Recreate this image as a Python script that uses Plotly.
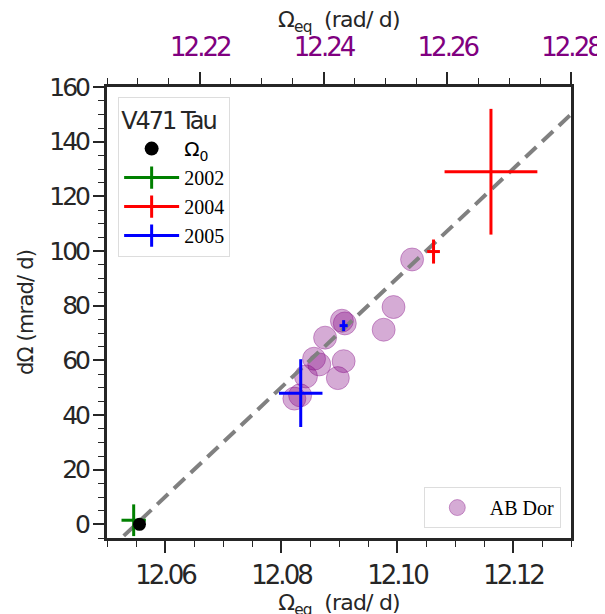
import plotly.graph_objects as go

# ---- data ----
abdor_x = [12.1026, 12.0994, 12.0977, 12.0905, 12.0910, 12.0876, 12.0857, 12.0866,
           12.0908, 12.0843, 12.0898, 12.0823, 12.0833]
abdor_y = [96.9, 79.5, 71.2, 74.5, 73.5, 68.3, 60.6, 58.5, 59.7, 54.1, 53.5, 46.0, 47.2]

omega0_x = [12.0556]
omega0_y = [0.0]

y2002_x = [12.0546]; y2002_y = [1.5]; y2002_ex = [0.0021]; y2002_ey = [5.8]
y2004_x = [12.1162, 12.1063]; y2004_y = [129.0, 99.8]
y2004_ex = [0.0080, 0.0011]; y2004_ey = [23.0, 4.4]
y2005_x = [12.0834, 12.0908]; y2005_y = [48.0, 72.7]
y2005_ex = [0.00375, 0.0007]; y2005_ey = [12.4, 2.0]

line_x = [12.05, 12.13]
line_y = [-10.0, 150.0]

bottom_ticks = [12.06, 12.08, 12.10, 12.12]
bottom_ticklabels = ["12.06", "12.08", "12.10", "12.12"]
top_ticks = [12.22, 12.24, 12.26, 12.28]
top_ticklabels = ["12.22", "12.24", "12.26", "12.28"]
y_ticks = [0, 20, 40, 60, 80, 100, 120, 140, 160]
y_ticklabels = ["0", "20", "40", "60", "80", "100", "120", "140", "160"]

SANS = "DejaVu Sans"
SERIF = "Liberation Serif"
DARK = "#262626"
PURPLE = "#800080"


def tight(s, sp=-3):
    return f"<span style='letter-spacing:{sp}px'>{s}</span>"


fig = go.Figure()

# AB Dor circles
fig.add_trace(go.Scatter(
    x=abdor_x, y=abdor_y, mode="markers", name="AB Dor", legend="legend2",
    marker=dict(size=23, color="rgba(128,0,128,0.33)",
                line=dict(color="rgba(128,0,128,0.35)", width=1)),
    hoverinfo="skip"))

# dashed relation line
fig.add_trace(go.Scatter(
    x=line_x, y=line_y, mode="lines", showlegend=False,
    line=dict(color="#808080", width=4, dash="15px,8px"), hoverinfo="skip"))

# error-bar crosses (data)
for xs, ys, ex, ey, col in [(y2002_x, y2002_y, y2002_ex, y2002_ey, "green"),
                            (y2004_x, y2004_y, y2004_ex, y2004_ey, "red"),
                            (y2005_x, y2005_y, y2005_ex, y2005_ey, "blue")]:
    fig.add_trace(go.Scatter(
        x=xs, y=ys, mode="markers", showlegend=False,
        marker=dict(size=1, color=col, opacity=0),
        error_x=dict(type="data", array=ex, visible=True, width=0, thickness=3, color=col),
        error_y=dict(type="data", array=ey, visible=True, width=0, thickness=3, color=col),
        hoverinfo="skip"))

# Omega_0
fig.add_trace(go.Scatter(
    x=omega0_x, y=omega0_y, mode="markers", showlegend=False,
    marker=dict(size=13, color="black"), hoverinfo="skip"))

# legend entries
fig.add_trace(go.Scatter(
    x=[None], y=[None], mode="markers", legend="legend",
    name="<span style='font-family:DejaVu Sans'>Ω<sub>0</sub></span>",
    marker=dict(size=14, color="black")))
for nm, col in [("2002", "green"), ("2004", "red"), ("2005", "blue")]:
    fig.add_trace(go.Scatter(
        x=[None], y=[None], mode="lines+markers", name=nm, legend="legend",
        line=dict(color=col, width=3),
        marker=dict(symbol="line-ns-open", size=16, color=col,
                    line=dict(color=col, width=3))))

# dummy trace for top axis
fig.add_trace(go.Scatter(x=[12.24], y=[None], xaxis="x2", mode="markers",
                         showlegend=False, hoverinfo="skip"))

axis_common = dict(showline=True, linecolor=DARK, linewidth=3, ticks="outside",
                   ticklen=12, tickwidth=1.5, tickcolor=DARK, showgrid=False,
                   zeroline=False, automargin=False)
minor_common = dict(ticks="outside", ticklen=6, tickwidth=1.2, tickcolor=DARK)

# page body has an 8px margin; margins compensate so the plot area sits at
# x 107..571, y 87..538 of the window
fig.update_layout(
    width=605, height=614,
    margin=dict(l=99, r=42, t=79, b=84),
    plot_bgcolor="white", paper_bgcolor="white",
    xaxis=dict(range=[12.05, 12.13], tickvals=bottom_ticks,
               ticktext=[tight(t) for t in bottom_ticklabels],
               tickfont=dict(family=SANS, size=26, color=DARK),
               title=dict(text=tight("Ω<sub>eq</sub>  (rad/ d)", -0.8),
                          font=dict(family=SANS, size=22, color=DARK), standoff=4),
               minor=dict(dtick=0.005, tick0=12.05, **minor_common),
               **axis_common),
    xaxis2=dict(range=[12.205, 12.28], overlaying="x", side="top", anchor="y",
                tickvals=top_ticks, ticktext=[tight(t) for t in top_ticklabels],
                tickfont=dict(family=SANS, size=26, color=PURPLE),
                ticklabelstandoff=6,
                minor=dict(dtick=0.005, tick0=12.205, **minor_common),
                **axis_common),
    yaxis=dict(range=[-5, 160], tickvals=y_ticks,
               ticktext=[tight(t) for t in y_ticklabels], mirror=True,
               tickfont=dict(family=SANS, size=25, color=DARK),
               title=dict(text=tight("dΩ (mrad/ d)", -0.8),
                          font=dict(family=SANS, size=21, color=DARK), standoff=10),
               minor=dict(dtick=5, tick0=0, **minor_common),
               **{**axis_common, "ticklen": 11}),
    annotations=[dict(text=tight("Ω<sub>eq</sub>  (rad/ d)", -0.8),
                      xref="paper", yref="paper", x=0.5, y=1.1463,
                      xanchor="center", yanchor="middle", showarrow=False,
                      font=dict(family=SANS, size=22, color=DARK))],
    legend=dict(x=0.024, y=0.978, xanchor="left", yanchor="top",
                bgcolor="white", bordercolor="#dddddd", borderwidth=1,
                font=dict(family=SERIF, size=20, color="black"),
                title=dict(text=tight("V471 Tau", -2),
                           font=dict(family=SANS, size=24, color=DARK)),
                itemsizing="trace", itemwidth=55),
    legend2=dict(x=0.978, y=0.022, xanchor="right", yanchor="bottom",
                 bgcolor="white", bordercolor="#dddddd", borderwidth=1,
                 font=dict(family=SERIF, size=20, color="black"),
                 itemsizing="trace", itemwidth=55),
)

fig.write_html("out.html")
